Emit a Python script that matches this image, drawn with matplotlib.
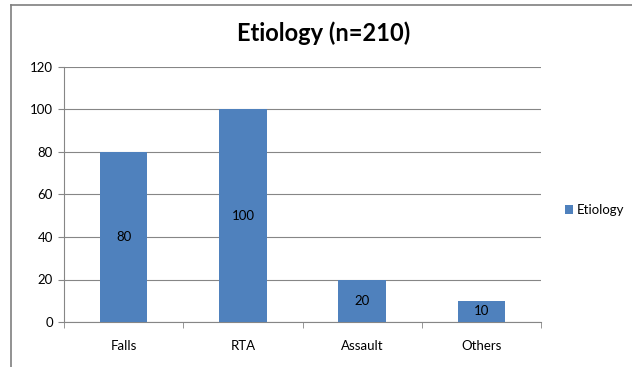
import matplotlib
matplotlib.use("Agg")
import matplotlib.pyplot as plt
from matplotlib.lines import Line2D
from matplotlib.patches import Patch

categories = ["Falls", "RTA", "Assault", "Others"]
values = [80, 100, 20, 10]
series_name = "Etiology"
title = "Etiology (n=210)"
yticks = [0, 20, 40, 60, 80, 100, 120]

plt.rcParams['font.family'] = ['Lato', 'DejaVu Sans']
W, H = 632, 367
fig = plt.figure(figsize=(W / 100, H / 100), dpi=100)
fig.patch.set_facecolor('white')

ax = fig.add_axes([64 / W, 1 - 322 / H, (541 - 64) / W, (322 - 67) / H])
bar_color = '#4F81BD'
x = list(range(len(categories)))
bars = ax.bar(x, values, width=0.4, color=bar_color, zorder=3)
for b, v in zip(bars, values):
    ax.text(b.get_x() + b.get_width() / 2, v / 2, str(v), ha='center', va='center',
            fontsize=9.5, color='black', zorder=4)

ax.set_xlim(-0.5, len(categories) - 0.5)
ax.set_ylim(0, 120)
ax.set_yticks(yticks)
ax.set_yticklabels([str(t) for t in yticks], fontsize=9.5)
ax.set_xticks(x)
ax.set_xticklabels(categories, fontsize=9.5)
ax.tick_params(axis='x', length=0, pad=13)
ax.tick_params(axis='y', length=4, color='#868686', pad=4)
ax.set_xticks([i - 0.5 for i in range(len(categories) + 1)], minor=True)
ax.tick_params(axis='x', which='minor', length=4, color='#868686')
ax.grid(axis='y', color='#868686', linewidth=0.8, zorder=0)
for s in ['top', 'right']:
    ax.spines[s].set_visible(False)
for s in ['left', 'bottom']:
    ax.spines[s].set_color('#868686')
    ax.spines[s].set_linewidth(0.8)

fig.text(324 / W, 1 - 33 / H, title, ha='center', va='center', fontsize=17, fontweight='bold')

fig.legend(handles=[Patch(facecolor=bar_color, label=series_name)], loc='center left',
           bbox_to_anchor=(558 / W, 1 - 210 / H), frameon=False, fontsize=9.5,
           handlelength=0.6, handleheight=0.6, handletextpad=0.35, borderpad=0)

# outer chart border
fig.add_artist(Line2D([11 / W, 11 / W], [0, 1 - 5 / H], color='#7F7F7F', linewidth=1.2))
fig.add_artist(Line2D([11 / W, 1], [1 - 5 / H, 1 - 5 / H], color='#7F7F7F', linewidth=1.2))

fig.savefig("out.png", dpi=100)
